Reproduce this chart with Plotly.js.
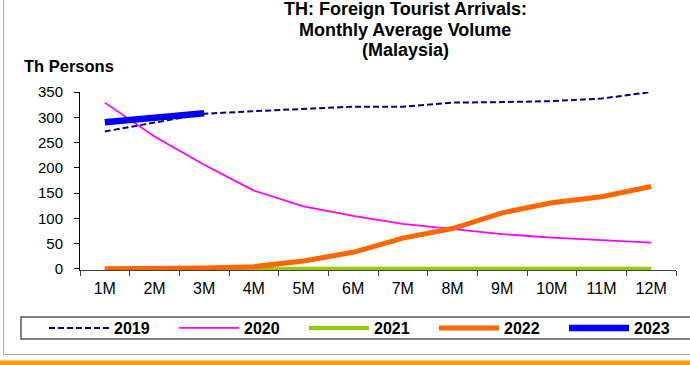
<!DOCTYPE html>
<html>
<head>
<meta charset="utf-8">
<script src="https://cdn.plot.ly/plotly-3.0.1.min.js"></script>
<style>html,body{margin:0;padding:0;background:#fff;}#chart{width:690px;height:365px;}</style>
</head>
<body>
<div id="chart"></div>
<script>
var months = ["1M","2M","3M","4M","5M","6M","7M","8M","9M","10M","11M","12M"];
var y2019 = [272, 290, 307, 312, 316, 321, 321, 329, 330, 332, 337, 350];
var y2020 = [329, 262, 206, 155, 124, 105, 89, 79, 69, 62, 57, 52];
var y2021 = [0.2, 0.2, 0.2, 0.2, 0.2, 0.2, 0.3, 0.3, 0.4, 0.4, 0.5, 0.5];
var y2022 = [0.3, 0.6, 2, 4.6, 16, 33, 61, 80, 111, 131, 143, 163];
var y2023 = [290, 299, 308];
var seriesNames = ["2019","2020","2021","2022","2023"];
var titleLines = ["TH: Foreign Tourist Arrivals:", "Monthly Average Volume", "(Malaysia)"];
var unitLabel = "Th Persons";

// pixel -> paper helpers for decoration
var L = 80, R = 676, T = 92, B = 270;
function px(x){ return (x - L) / (R - L); }
function py(y){ return (B - y) / (B - T); }

var FONT = "Liberation Sans, Arial, sans-serif";

var traces = [
  {x: months, y: y2019, name: seriesNames[0], mode: "lines", line: {color: "#000080", width: 2, dash: "6px,3px"}},
  {x: months, y: y2020, name: seriesNames[1], mode: "lines", line: {color: "#FF00FF", width: 1.8}},
  {x: months, y: y2021, name: seriesNames[2], mode: "lines", line: {color: "#99CC00", width: 4}},
  {x: months, y: y2022, name: seriesNames[3], mode: "lines", line: {color: "#FF6600", width: 5}},
  {x: months.slice(0, y2023.length), y: y2023, name: seriesNames[4], mode: "lines", line: {color: "#0000FF", width: 6.5}}
];

var titleY = [9.5, 30, 50];
var annotations = titleLines.map(function(t, i){
  return {text: "<b>" + t + "</b>", xref: "paper", yref: "paper", x: px(405), y: py(titleY[i]),
          xanchor: "center", yanchor: "middle", showarrow: false, font: {size: 18, family: FONT, color: "#000"}};
});
annotations.push({text: "<b>" + unitLabel + "</b>", xref: "paper", yref: "paper", x: px(22), y: py(66),
     xanchor: "left", yanchor: "middle", showarrow: false, font: {size: 16.5, family: FONT, color: "#000"}});

var layout = {
  width: 690, height: 365,
  margin: {l: L, r: 690 - R, t: T, b: 365 - B, pad: 0, autoexpand: false},
  paper_bgcolor: "#fff", plot_bgcolor: "#fff",
  font: {family: FONT, size: 15, color: "#000"},
  xaxis: {
    type: "category", range: [-0.5, 11.5],
    showline: true, linecolor: "#404040", linewidth: 1,
    ticks: "outside", tickson: "boundaries", ticklen: 5, tickcolor: "#404040",
    showgrid: false, zeroline: false, ticklabelstandoff: 4,
    tickfont: {size: 16}, fixedrange: true
  },
  yaxis: {
    range: [-2, 350], tickvals: [0,50,100,150,200,250,300,350],
    showline: true, linecolor: "#000", linewidth: 1,
    ticks: "outside", ticklen: 5, tickcolor: "#000",
    showgrid: false, zeroline: false, ticklabelstandoff: 8,
    tickfont: {size: 15}, fixedrange: true
  },
  showlegend: true,
  legend: {
    orientation: "h", xref: "paper", yref: "paper",
    x: px(44), xanchor: "left", y: py(328), yanchor: "middle",
    borderwidth: 0, bgcolor: "rgba(0,0,0,0)",
    font: {size: 16, color: "#000", family: FONT, weight: "bold"},
    itemwidth: 60, entrywidth: 55, entrywidthmode: "pixels",
    traceorder: "normal", itemclick: false
  },
  annotations: annotations,
  shapes: [
    {type: "rect", xref: "paper", yref: "paper", x0: px(3.5), x1: px(695), y0: py(354.5), y1: py(-5),
     line: {color: "#B0B0B0", width: 1}, fillcolor: "rgba(0,0,0,0)", layer: "below"},
    {type: "rect", xref: "paper", yref: "paper", x0: px(21), x1: px(695), y0: py(339), y1: py(317),
     line: {color: "#808080", width: 2}, fillcolor: "#fff", layer: "below"},
    {type: "rect", xref: "paper", yref: "paper", x0: px(-5), x1: px(700), y0: py(366), y1: py(360.5),
     line: {width: 0}, fillcolor: "#FF9900"}
  ]
};

Plotly.newPlot("chart", traces, layout, {displayModeBar: false, staticPlot: true});
</script>
</body>
</html>
